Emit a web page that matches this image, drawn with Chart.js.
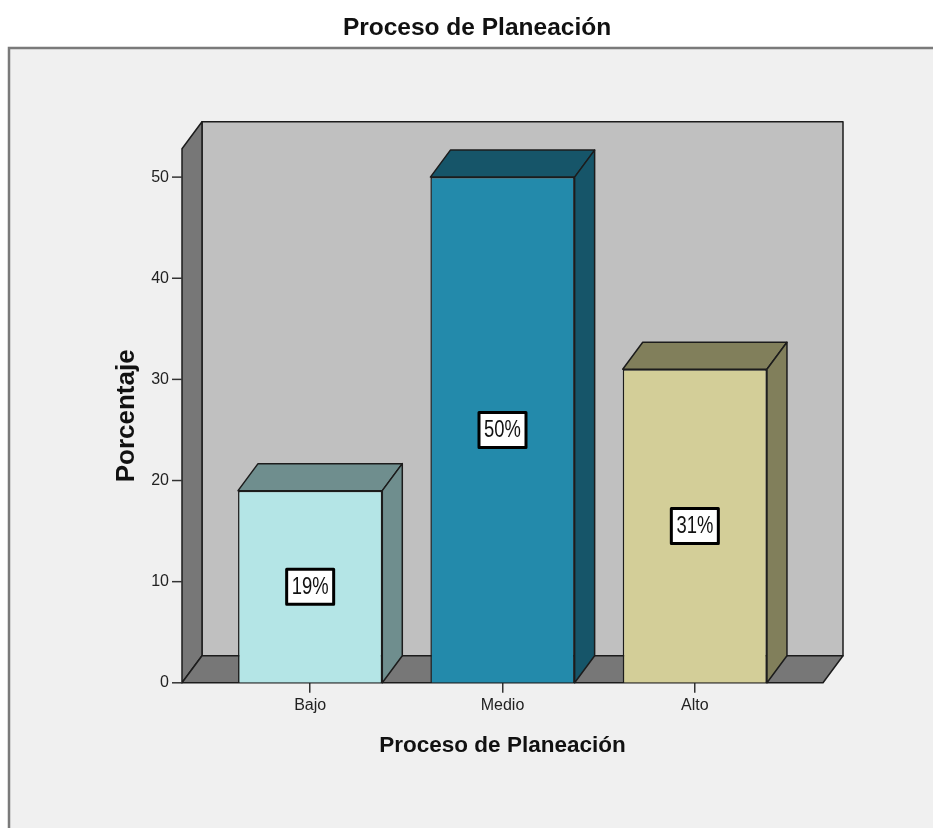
<!DOCTYPE html>
<html>
<head>
<meta charset="utf-8">
<title>Proceso de Planeación</title>
<script src="https://cdn.jsdelivr.net/npm/chart.js@4.4.1/dist/chart.umd.min.js"></script>
<style>
  html, body { margin: 0; padding: 0; background: #fff; }
  #wrap { width: 933px; height: 828px; }
</style>
</head>
<body>
<div id="wrap"><canvas id="chart" width="933" height="828"></canvas></div>
<script>
// data
var categories = ['Bajo', 'Medio', 'Alto'];
var values     = [19, 50, 31];
var yTicks     = [0, 10, 20, 30, 40, 50];
var yMax       = 52.8;

// palette: front face / shaded top+side
var frontColors = ['#b4e5e6', '#238aab', '#d3ce98'];
var shadeColors = ['#6f8e8e', '#165569', '#817f5b'];

var SANS = "'Liberation Sans', Arial, sans-serif";

var DX = 20, DY = 27;   // depth offset of the 3d box
var EXT = 32;           // floor/wall extension past the category band

function poly(ctx, pts, fill) {
  ctx.beginPath();
  ctx.moveTo(pts[0][0], pts[0][1]);
  for (var i = 1; i < pts.length; i++) ctx.lineTo(pts[i][0], pts[i][1]);
  ctx.closePath();
  ctx.fillStyle = fill;
  ctx.fill();
  ctx.stroke();
}

var box3d = {
  id: 'box3d',
  beforeDraw: function (chart) {
    var ctx = chart.ctx;
    ctx.save();
    ctx.fillStyle = '#ffffff';
    ctx.fillRect(0, 0, chart.width, chart.height);
    // output frame
    ctx.fillStyle = '#f0f0f0';
    ctx.fillRect(9, 48, chart.width, chart.height);
    ctx.strokeStyle = '#7a7a7a';
    ctx.lineWidth = 2.5;
    ctx.beginPath();
    ctx.moveTo(9, chart.height + 5);
    ctx.lineTo(9, 48);
    ctx.lineTo(chart.width + 5, 48);
    ctx.stroke();
    // main title
    ctx.fillStyle = '#111';
    ctx.font = 'bold 24.5px ' + SANS;
    ctx.textAlign = 'center';
    ctx.textBaseline = 'middle';
    ctx.fillText('Proceso de Planeación', 477, 28);
    ctx.restore();
  },
  beforeDatasetsDraw: function (chart) {
    var ctx = chart.ctx, a = chart.chartArea, y = chart.scales.y;
    var l = a.left - EXT, r = a.right + EXT;
    var t = y.getPixelForValue(yMax), b = y.getPixelForValue(0);
    ctx.save();
    ctx.lineWidth = 1.5;
    ctx.strokeStyle = '#1c1c1c';
    ctx.lineJoin = 'round';
    poly(ctx, [[l + DX, t - DY], [r + DX, t - DY], [r + DX, b - DY], [l + DX, b - DY]], '#c0c0c0');
    poly(ctx, [[l, t], [l + DX, t - DY], [l + DX, b - DY], [l, b]], '#777777');
    poly(ctx, [[l, b], [l + DX, b - DY], [r + DX, b - DY], [r, b]], '#777777');
    // y tick marks sit on the front edge of the side wall
    ctx.strokeStyle = '#333';
    y.ticks.forEach(function (tk) {
      var py = y.getPixelForValue(tk.value);
      ctx.beginPath();
      ctx.moveTo(l - 10, py);
      ctx.lineTo(l, py);
      ctx.stroke();
    });
    ctx.restore();
  },
  afterDatasetsDraw: function (chart) {
    var ctx = chart.ctx;
    var meta = chart.getDatasetMeta(0);
    ctx.save();
    ctx.lineWidth = 1.5;
    ctx.strokeStyle = '#1c1c1c';
    ctx.lineJoin = 'round';
    meta.data.forEach(function (el, i) {
      var p = el.getProps(['x', 'y', 'base', 'width'], true);
      var x0 = p.x - p.width / 2, x1 = p.x + p.width / 2;
      poly(ctx, [[x0, p.y], [x0 + DX, p.y - DY], [x1 + DX, p.y - DY], [x1, p.y]], shadeColors[i]);
      poly(ctx, [[x1, p.y], [x1 + DX, p.y - DY], [x1 + DX, p.base - DY], [x1, p.base]], shadeColors[i]);

      // value label box, text squeezed horizontally
      var txt = values[i] + '%';
      var cx = p.x, cy = (p.y + p.base) / 2;
      var w = 47, h = 35;
      ctx.fillStyle = '#ffffff';
      ctx.fillRect(cx - w / 2, cy - h / 2, w, h);
      ctx.save();
      ctx.lineWidth = 3;
      ctx.strokeStyle = '#000';
      ctx.strokeRect(cx - w / 2, cy - h / 2, w, h);
      ctx.restore();
      ctx.save();
      ctx.translate(cx, cy + 1);
      ctx.scale(0.8, 1);
      ctx.font = '23px ' + SANS;
      ctx.fillStyle = '#111';
      ctx.textAlign = 'center';
      ctx.textBaseline = 'middle';
      ctx.fillText(txt, 0, 0);
      ctx.restore();
    });
    ctx.restore();
  }
};

new Chart(document.getElementById('chart'), {
  type: 'bar',
  data: {
    labels: categories,
    datasets: [{
      data: values,
      backgroundColor: frontColors,
      borderColor: '#1c1c1c',
      borderWidth: 1.5,
      categoryPercentage: 1,
      barPercentage: 0.75
    }]
  },
  options: {
    responsive: false,
    animation: false,
    devicePixelRatio: 1,
    layout: { padding: { top: 148.8, left: 0, right: 142, bottom: 0 } },
    plugins: { legend: { display: false }, tooltip: { enabled: false }, title: { display: false } },
    scales: {
      x: {
        type: 'category',
        offset: true,
        grid: { display: true, drawOnChartArea: false, offset: false, tickLength: 10, color: '#333', lineWidth: 1.5 },
        border: { display: false },
        ticks: { padding: 3, color: '#222', font: { family: SANS, size: 16 } },
        title: {
          display: true, text: 'Proceso de Planeación', color: '#111',
          font: { family: SANS, size: 22.5, weight: 'bold' },
          padding: { top: 0, bottom: 69 }
        },
        afterFit: function (s) { s.height = 145.2; }
      },
      y: {
        min: 0,
        max: yMax,
        afterBuildTicks: function (s) { s.ticks = yTicks.map(function (v) { return { value: v }; }); },
        grid: { display: false },
        border: { display: false },
        ticks: { padding: 37, color: '#222', font: { family: SANS, size: 16 } },
        title: {
          display: true, text: 'Porcentaje', color: '#111',
          font: { family: SANS, size: 26, weight: 'bold' },
          padding: { top: 111, bottom: 0 }
        },
        afterFit: function (s) { s.width = 214; }
      }
    }
  },
  plugins: [box3d]
});
</script>
</body>
</html>
